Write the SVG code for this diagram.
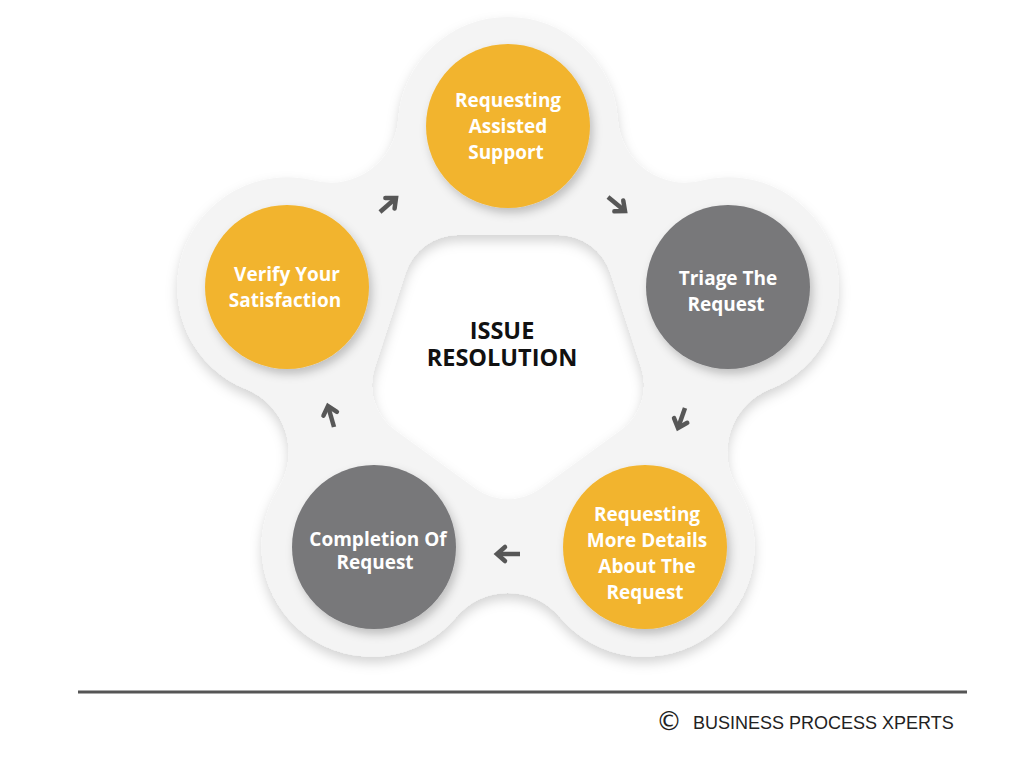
<svg xmlns="http://www.w3.org/2000/svg" width="1024" height="768" viewBox="0 0 1024 768">
  <style>
    .lbl { font-family: "Open Sans", "Liberation Sans", sans-serif; font-weight: 700; font-size: 19px; fill: #ffffff; text-anchor: middle; }
    .title { font-family: "Open Sans", "Liberation Sans", sans-serif; font-weight: 700; font-size: 23.5px; fill: #111111; text-anchor: middle; }
    .orange { fill: #F2B42E; }
    .gray { fill: #78787A; }
    .arrow { fill: none; stroke: #575757; stroke-width: 4.5; stroke-linecap: butt; }
    .foot { font-family: "Liberation Sans", "Arial", sans-serif; font-size: 18px; fill: #222222; }
  </style>
  <defs>
    <filter id="blobShadow" x="-20%" y="-20%" width="140%" height="140%">
      <feGaussianBlur in="SourceAlpha" stdDeviation="6"/>
      <feOffset dx="0" dy="6" result="b"/>
      <feFlood flood-color="#000000" flood-opacity="0.17"/>
      <feComposite in2="b" operator="in"/>
      <feMerge><feMergeNode/><feMergeNode in="SourceGraphic"/></feMerge>
    </filter>
    <filter id="circShadow" x="-30%" y="-30%" width="160%" height="160%">
      <feGaussianBlur in="SourceAlpha" stdDeviation="5"/>
      <feOffset dx="3" dy="5" result="b"/>
      <feFlood flood-color="#000000" flood-opacity="0.22"/>
      <feComposite in2="b" operator="in"/>
      <feMerge><feMergeNode/><feMergeNode in="SourceGraphic"/></feMerge>
    </filter>
    <marker id="head" markerUnits="userSpaceOnUse" viewBox="-12 -12 24 24" markerWidth="24" markerHeight="24" refX="0" refY="0" orient="auto">
      <path d="M-8,-7 L0,0 L-8,7" fill="none" stroke="#575757" stroke-width="4.5" stroke-linejoin="miter" stroke-linecap="round"/>
    </marker>
  </defs>
  <rect x="0" y="0" width="1024" height="768" fill="#ffffff"/>

  <g id="background">
    <path filter="url(#blobShadow)" fill="#F4F4F4" fill-rule="evenodd" d="
      M398.25,119.48 A110,110 0 0 1 617.75,119.48
      A67.8,67.8 0 0 0 701.89,180.60
      A110,110 0 0 1 769.71,389.36
      A67.8,67.8 0 0 0 737.59,488.27
      A110,110 0 0 1 560.00,617.28
      A67.8,67.8 0 0 0 456.00,617.28
      A110,110 0 0 1 278.41,488.27
      A67.8,67.8 0 0 0 246.29,389.36
      A110,110 0 0 1 314.11,180.60
      A67.8,67.8 0 0 0 398.25,119.48 Z
      M457.87,235 L558.13,235
      A55,55 0 0 1 610.44,273
      L641.42,368.36
      A55,55 0 0 1 621.45,429.85
      L540.33,488.78
      A55,55 0 0 1 475.67,488.78
      L394.55,429.85
      A55,55 0 0 1 374.58,368.36
      L405.56,273
      A55,55 0 0 1 457.87,235 Z"/>
  </g>

  <g id="connectors">
    <line class="arrow" x1="380" y1="212" x2="396" y2="198" marker-end="url(#head)"/>
    <line class="arrow" x1="608" y1="197" x2="625" y2="211" marker-end="url(#head)"/>
    <line class="arrow" x1="685" y1="408" x2="678" y2="428" marker-end="url(#head)"/>
    <line class="arrow" x1="520" y1="554" x2="497" y2="554" marker-end="url(#head)"/>
    <line class="arrow" x1="334" y1="427" x2="328" y2="406" marker-end="url(#head)"/>
  </g>

  <g id="node-requesting-assisted-support">
    <circle class="orange" cx="508" cy="126" r="82" filter="url(#circShadow)"/>
    <text class="lbl" x="508" y="107">Requesting</text>
    <text class="lbl" x="508" y="133">Assisted</text>
    <text class="lbl" x="506" y="159">Support</text>
  </g>

  <g id="node-triage">
    <circle class="gray" cx="728" cy="287" r="82" filter="url(#circShadow)"/>
    <text class="lbl" x="728" y="285">Triage The</text>
    <text class="lbl" x="726" y="311">Request</text>
  </g>

  <g id="node-requesting-more-details">
    <circle class="orange" cx="645" cy="547" r="82" filter="url(#circShadow)"/>
    <text class="lbl" x="647" y="521">Requesting</text>
    <text class="lbl" x="647" y="547">More Details</text>
    <text class="lbl" x="647" y="573">About The</text>
    <text class="lbl" x="645" y="599">Request</text>
  </g>

  <g id="node-completion">
    <circle class="gray" cx="374" cy="547" r="82" filter="url(#circShadow)"/>
    <text class="lbl" x="378" y="546">Completion Of</text>
    <text class="lbl" x="375" y="569">Request</text>
  </g>

  <g id="node-verify">
    <circle class="orange" cx="287" cy="287" r="82" filter="url(#circShadow)"/>
    <text class="lbl" x="287" y="281">Verify Your</text>
    <text class="lbl" x="285" y="307">Satisfaction</text>
  </g>

  <g id="center-title">
    <text class="title" x="502" y="339">ISSUE</text>
    <text class="title" x="502" y="366">RESOLUTION</text>
  </g>

  <g id="footer">
    <line x1="78" y1="692" x2="967" y2="692" stroke="#555555" stroke-width="3"/>
    <text x="669" y="730" text-anchor="middle" font-family="DejaVu Sans, sans-serif" font-size="26" fill="#222222">©</text>
    <text class="foot" x="693" y="729">BUSINESS PROCESS XPERTS</text>
  </g>
</svg>
